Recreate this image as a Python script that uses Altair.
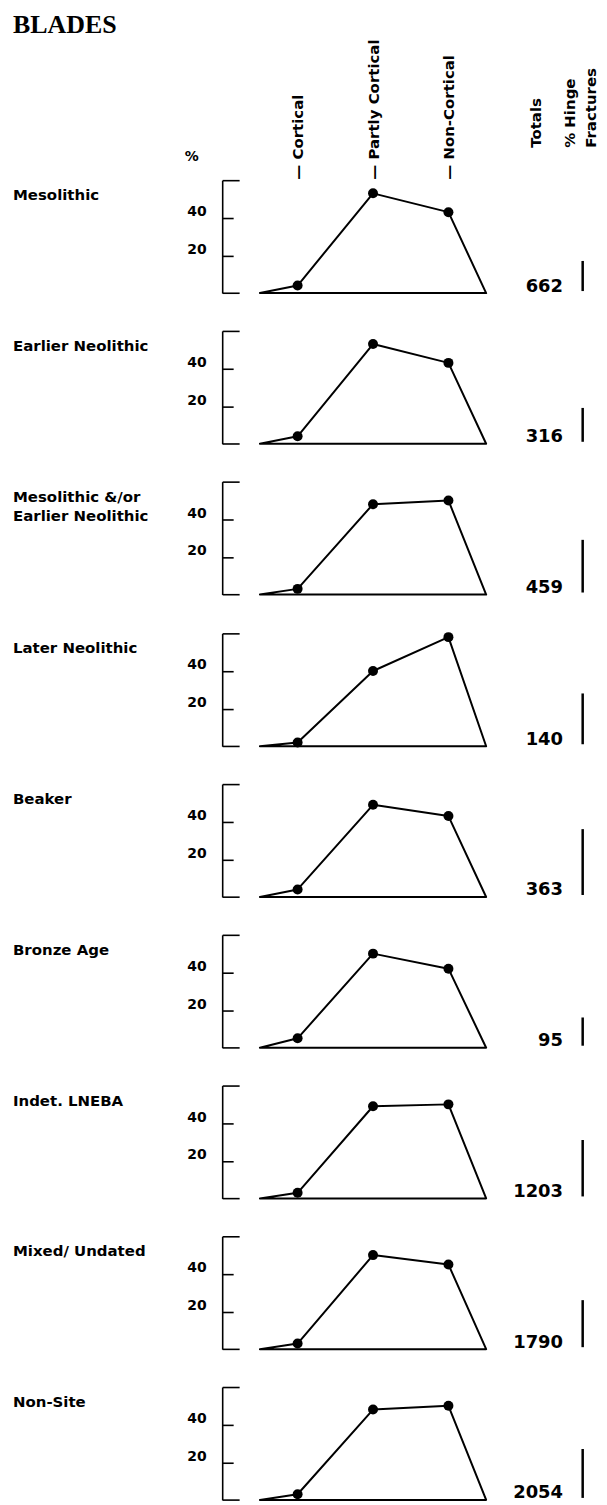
import altair as alt
import pandas as pd

# ---------------- data ----------------
periods = [["Mesolithic"], ["Earlier Neolithic"], ["Mesolithic &/or", "Earlier Neolithic"],
           ["Later Neolithic"], ["Beaker"], ["Bronze Age"], ["Indet. LNEBA"],
           ["Mixed/ Undated"], ["Non-Site"]]
categories = ["Cortical", "Partly Cortical", "Non-Cortical"]
cortical = [4, 4, 3, 2, 4, 5, 3, 3, 3]
partly_cortical = [53, 53, 48, 40, 49, 50, 49, 50, 48]
non_cortical = [43, 43, 50, 58, 43, 42, 50, 45, 50]
totals = [662, 316, 459, 140, 363, 95, 1203, 1790, 2054]
hinge_pct = [16, 18, 28, 27, 35, 15, 30, 25, 26]
y_tick_values = [0, 20, 40, 60]
y_label_values = [20, 40]
side_headers = ["Totals", "% Hinge", "Fractures"]

# ---------------- layout constants ----------------
SANS = "DejaVu Sans"
SERIF = "Liberation Serif"
STEP = 75.7
W = 4.97 * STEP
H = 113.3
CAT_POS = [1, 2, 3]
FOOT = [0.5, 3.5]
TOTAL_X = 4.52
HINGE_X = 4.78
SIDE_HEAD_X = [4.15, 4.61, 4.88]
XS = alt.Scale(domain=[0, 4.97], nice=False, zero=False)
YS = alt.Scale(domain=[0, 60], nice=False, zero=True)

cat_expr = "'\u2014 ' + [" + ",".join("'" + c + "'" for c in categories) + "][datum.value - 1]"
side_expr = ("datum.value < {a} ? '{t0}' : datum.value < {b} ? '{t1}' : '{t2}'").format(
    a=(SIDE_HEAD_X[0] + SIDE_HEAD_X[1]) / 2, b=(SIDE_HEAD_X[1] + SIDE_HEAD_X[2]) / 2,
    t0=side_headers[0], t1=side_headers[1], t2=side_headers[2])

HEAD_STYLE = dict(orient="top", labelAngle=270, labelAlign="left", labelBaseline="middle",
                  domain=False, ticks=False, tickSize=0, labelFont=SANS, labelFontSize=15,
                  labelFontWeight="bold", labelColor="black", labelOverlap=False,
                  labelFlush=False, grid=False, title=None)
cat_axis = alt.Axis(values=CAT_POS, labelExpr=cat_expr, labelPadding=1, **HEAD_STYLE)
side_axis = alt.Axis(values=SIDE_HEAD_X, labelExpr=side_expr, labelPadding=33, **HEAD_STYLE)

tick_axis = alt.Axis(
    orient="right", offset=-W, values=y_tick_values, labels=False, domain=False,
    ticks=True,
    tickSize={"condition": {"test": "datum.value == 20 || datum.value == 40", "value": 11}, "value": 17},
    tickWidth=1.6, tickColor="black", grid=False, title=None,
)


def left_axis(first):
    kw = dict(orient="left", values=y_label_values, domain=True, domainColor="black",
              domainWidth=1.6, ticks=False, tickSize=0, labelPadding=16, labelOffset=-6,
              labelFont=SANS, labelFontSize=14, labelFontWeight="bold", labelColor="black",
              labelFlush=False, grid=False)
    if first:
        kw.update(title="%", titleAngle=0, titleX=-31, titleY=-24, titleAlign="center",
                  titleBaseline="middle", titleFont=SANS, titleFontSize=14,
                  titleFontWeight="bold", titleColor="black")
    else:
        kw.update(title=None)
    return alt.Axis(**kw)


def panel(i):
    first = i == 0
    prof = pd.DataFrame({"pos": [FOOT[0]] + CAT_POS + [FOOT[1]],
                         "pct": [0, cortical[i], partly_cortical[i], non_cortical[i], 0]})
    pts = pd.DataFrame({"pos": CAT_POS, "category": categories,
                        "pct": [cortical[i], partly_cortical[i], non_cortical[i]]})
    side = pd.DataFrame({"total": [totals[i]], "hinge": [hinge_pct[i]]})

    area = alt.Chart(prof).mark_area(
        fillOpacity=0, stroke="black", strokeWidth=2, strokeJoin="round"
    ).encode(
        x=alt.X("pos:Q", scale=XS, axis=cat_axis if first else None),
        y=alt.Y("pct:Q", scale=YS, axis=left_axis(first)),
    )
    dots = alt.Chart(pts).mark_circle(size=100, color="black", opacity=1).encode(
        x=alt.X("pos:Q", scale=XS, axis=None),
        y=alt.Y("pct:Q", scale=YS, axis=tick_axis),
    )
    tot = alt.Chart(side).mark_text(
        align="right", baseline="alphabetic", dy=-1.5, font=SANS, fontSize=18,
        fontWeight="bold", color="black"
    ).encode(
        x=alt.XDatum(TOTAL_X, scale=XS, axis=None),
        y=alt.YDatum(0, scale=YS, axis=None),
        text="total:N",
    )
    bar = alt.Chart(side).mark_rule(
        color="black", strokeWidth=2.5, yOffset=-2, y2Offset=-2
    ).encode(
        x=alt.XDatum(HINGE_X, scale=XS, axis=side_axis if first else None),
        y=alt.Y("hinge:Q", scale=YS, axis=None),
        y2=alt.Y2Datum(0),
    )
    title = alt.TitleParams(
        text=periods[i], orient="bottom", anchor="start", frame="group",
        baseline="top", offset=0, dx=-210, dy=6.7 - H - 1,
        font=SANS, fontSize=15, fontWeight="bold", color="black", lineHeight=19.5,
    )
    return (alt.layer(area, dots, tot, bar)
            .resolve_axis(x="independent", y="independent")
            .properties(width=W, height=H, title=title))


chart = alt.vconcat(*[panel(i) for i in range(len(periods))], spacing=34.3).properties(
    title=alt.TitleParams(
        text="BLADES", orient="top", anchor="start", frame="bounds",
        baseline="top", offset=0, dy=-1.3, font=SERIF, fontSize=26,
        fontWeight="bold", color="black",
    ),
    padding={"left": 5, "top": 0, "right": 0, "bottom": 0},
).configure_view(stroke=None)

chart.save("out.html", embed_options={"renderer": "svg", "actions": False})
